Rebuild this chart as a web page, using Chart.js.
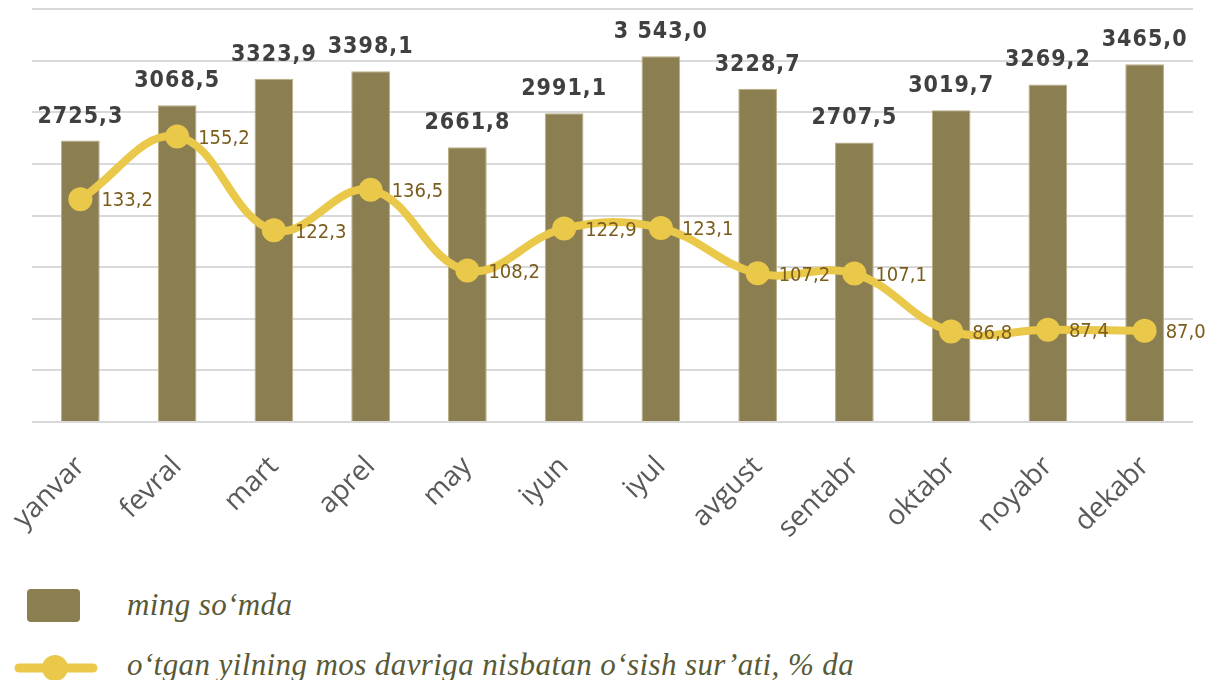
<!DOCTYPE html>
<html>
<head>
<meta charset="utf-8">
<script src="https://cdn.jsdelivr.net/npm/chart.js@4"></script>
<style>
  body { margin: 0; background: #fff; }
  #wrap { position: relative; width: 1214px; height: 680px; }
  #c { position: absolute; left: 0; top: 0; }
  .leg { position: absolute; font-family: "Liberation Serif", serif; font-style: italic;
         font-size: 31px; letter-spacing: 0.4px; color: #595936; white-space: nowrap; line-height: 1; }
  .box { position: absolute; left: 27px; top: 589px; width: 53px; height: 33px;
         background: #8b7f52; border-radius: 4px; }
</style>
</head>
<body>
<div id="wrap">
  <canvas id="c" width="1214" height="570"></canvas>
  <div class="box"></div>
  <canvas id="lineSym" width="100" height="40" style="position:absolute;left:0;top:648px"></canvas>
  <div class="leg" style="left:127px;top:589px">ming so‘mda</div>
  <div class="leg" style="left:127px;top:649px">o‘tgan yilning mos davriga nisbatan o‘sish sur’ati, % da</div>
</div>
<script>
// data
const months = ["yanvar", "fevral", "mart", "aprel", "may", "iyun", "iyul", "avgust", "sentabr", "oktabr", "noyabr", "dekabr"];
const salary = [2725.3, 3068.5, 3323.9, 3398.1, 2661.8, 2991.1, 3543.0, 3228.7, 2707.5, 3019.7, 3269.2, 3465.0];
const salaryLabels = ["2725,3", "3068,5", "3323,9", "3398,1", "2661,8", "2991,1", "3 543,0", "3228,7", "2707,5", "3019,7", "3269,2", "3465,0"];
const growth = [133.2, 155.2, 122.3, 136.5, 108.2, 122.9, 123.1, 107.2, 107.1, 86.8, 87.4, 87.0];
const growthLabels = ["133,2", "155,2", "122,3", "136,5", "108,2", "122,9", "123,1", "107,2", "107,1", "86,8", "87,4", "87,0"];

const BAR = "#8b7f52";
const LINE = "#eac84a";

// draws the value labels
const valueLabels = {
    id: "valueLabels",
    afterDatasetsDraw(chart) {
        const ctx = chart.ctx;
        ctx.save();
        // bar labels
        const bars = chart.getDatasetMeta(0).data;
        ctx.font = "bold 23px 'DejaVu Sans Condensed'";
        ctx.fillStyle = "#404040";
        ctx.textAlign = "center";
        ctx.textBaseline = "alphabetic";
        ctx.letterSpacing = "1px";
        bars.forEach((b, i) => {
            ctx.fillText(salaryLabels[i], b.x, b.y - 18);
        });
        // line labels
        const pts = chart.getDatasetMeta(1).data;
        ctx.font = "20px 'DejaVu Sans Condensed'";
        ctx.letterSpacing = "0px";
        ctx.fillStyle = "#7a5c1c";
        ctx.textAlign = "left";
        ctx.textBaseline = "middle";
        pts.forEach((p, i) => {
            ctx.fillText(growthLabels[i], p.x + 21, p.y + 2);
        });
        ctx.restore();
    }
};

new Chart(document.getElementById("c"), {
    type: "bar",
    data: {
        labels: months,
        datasets: [{
            type: "bar",
            label: "ming so‘mda",
            data: salary,
            backgroundColor: BAR,
            borderColor: "#b9ae84",
            borderWidth: 1,
            barPercentage: 0.8,
            categoryPercentage: 0.5,
            yAxisID: "y",
            order: 1
        }, {
            type: "line",
            label: "o‘tgan yilning mos davriga nisbatan o‘sish sur’ati, % da",
            data: growth,
            borderColor: LINE,
            backgroundColor: LINE,
            borderWidth: 8,
            pointRadius: 12,
            pointBackgroundColor: LINE,
            pointBorderWidth: 0,
            tension: 0.4,
            clip: false,
            yAxisID: "y1",
            order: 0
        }]
    },
    options: {
        responsive: false,
        animation: false,
        devicePixelRatio: 1,
        layout: { autoPadding: false, padding: { left: 32, right: 21, top: 9, bottom: 0 } },
        plugins: {
            legend: { display: false },
            tooltip: { enabled: false }
        },
        scales: {
            x: {
                grid: { display: false },
                border: { display: false },
                afterFit(scale) {
                    scale.height = 148;
                    scale.paddingLeft = 0;
                    scale.paddingRight = 0;
                },
                ticks: {
                    color: "#595959",
                    font: { family: "'Open Sans'", size: 28 },
                    minRotation: 45,
                    maxRotation: 45,
                    padding: 20
                }
            },
            y: {
                min: 0,
                max: 4000,
                ticks: { display: false, stepSize: 500 },
                grid: { color: "#d9d9d9", lineWidth: 2, drawTicks: false },
                border: { display: false }
            },
            y1: {
                display: false,
                min: 55,
                max: 200
            }
        }
    },
    plugins: [valueLabels]
});

// legend line symbol
const s = document.getElementById("lineSym").getContext("2d");
s.strokeStyle = LINE;
s.lineWidth = 9;
s.lineCap = "round";
s.beginPath();
s.moveTo(19, 20);
s.lineTo(93, 20);
s.stroke();
s.fillStyle = LINE;
s.beginPath();
s.arc(55, 20, 13, 0, Math.PI * 2);
s.fill();
</script>
</body>
</html>
